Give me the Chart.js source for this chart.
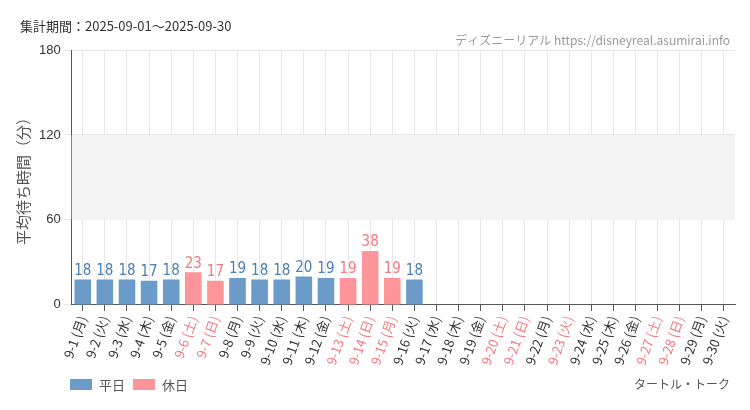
<!DOCTYPE html>
<html><head><meta charset="utf-8">
<script src="https://cdn.jsdelivr.net/npm/chart.js@4/dist/chart.umd.min.js"></script>
<style>body{margin:0;background:#fff;font-family:"Noto Sans CJK JP",sans-serif}#w{position:relative;width:750px;height:410px}</style>
</head><body><div id="w"><canvas id="c" width="750" height="410"></canvas></div>
<script>
const categories=["9-1 (月)","9-2 (火)","9-3 (水)","9-4 (木)","9-5 (金)","9-6 (土)","9-7 (日)","9-8 (月)","9-9 (火)","9-10 (水)","9-11 (木)","9-12 (金)","9-13 (土)","9-14 (日)","9-15 (月)","9-16 (火)","9-17 (水)","9-18 (木)","9-19 (金)","9-20 (土)","9-21 (日)","9-22 (月)","9-23 (火)","9-24 (水)","9-25 (木)","9-26 (金)","9-27 (土)","9-28 (日)","9-29 (月)","9-30 (火)"];
const values=[18,18,18,17,18,23,17,19,18,18,20,19,19,38,19,18,null,null,null,null,null,null,null,null,null,null,null,null,null,null];
const holidays=[6,7,13,14,15,20,21,23,27,28];
const yTicks=[0,60,120,180];
const BLUE="#6a9bc9",RED="#fd959a",REDT="#f4787f";
const isHol=i=>holidays.includes(i+1);
const extra={id:"extra",
 beforeDatasetsDraw(ch){const {ctx,chartArea:a,scales:{y}}=ch;ctx.save();ctx.fillStyle="#f4f4f4";const t=y.getPixelForValue(120),b=y.getPixelForValue(60);ctx.fillRect(a.left,t,a.right-a.left,b-t);ctx.restore();},
 afterDatasetsDraw(ch){const {ctx}=ch;const m=ch.getDatasetMeta(0);ctx.save();ctx.font="15px 'Liberation Sans Narrow','DejaVu Sans Condensed',sans-serif";ctx.textAlign="center";ctx.textBaseline="bottom";
  m.data.forEach((e,i)=>{if(values[i]==null)return;ctx.fillStyle=isHol(i)?REDT:"#4a7fb5";ctx.fillText(values[i],e.x,e.y-1);});
  ctx.font="13px 'Noto Sans CJK JP'";ctx.textAlign="left";ctx.textBaseline="middle";ctx.fillStyle="#333";
  ctx.fillText("集計期間：2025-09-01～2025-09-30",20,26);
  ctx.textAlign="right";ctx.fillStyle="#999";ctx.font="12px 'Noto Sans CJK JP'";ctx.fillText("ディズニーリアル https://disneyreal.asumirai.info",730,40);
  ctx.fillStyle="#555";ctx.fillText("タートル・トーク",730,384);
  ctx.textAlign="left";ctx.font="13px 'Noto Sans CJK JP'";
  ctx.fillStyle=BLUE;ctx.fillRect(70,379,22,11);ctx.fillStyle="#555";ctx.fillText("平日",99,385);
  ctx.fillStyle=RED;ctx.fillRect(133,379,22,11);ctx.fillStyle="#555";ctx.fillText("休日",162,385);
  ctx.restore();}};
new Chart(document.getElementById("c"),{type:"bar",
 data:{labels:categories,datasets:[{data:values,backgroundColor:values.map((v,i)=>isHol(i)?RED:BLUE),barPercentage:0.75,categoryPercentage:1}]},
 options:{responsive:false,animation:false,layout:{padding:{top:50,right:15,bottom:40,left:10}},
  plugins:{legend:{display:false},tooltip:{enabled:false}},
  scales:{
   x:{grid:{color:"#e6e6e6",offset:false,tickLength:6,tickColor:"#555"},border:{color:"#555"},
     ticks:{maxRotation:70,minRotation:70,autoSkip:false,font:{size:13,family:"'Noto Sans CJK JP'"},color:c=>isHol(c.index)?REDT:"#333"}},
   y:{min:0,max:180,afterBuildTicks:s=>{s.ticks=yTicks.map(v=>({value:v}));},grid:{color:"#e6e6e6"},border:{color:"#555"},
     ticks:{font:{size:13},color:"#333"},
     title:{display:true,text:"平均待ち時間（分）",color:"#555",font:{size:15,family:"'Noto Sans CJK JP'"}}}}},
 plugins:[extra]});
</script></body></html>
